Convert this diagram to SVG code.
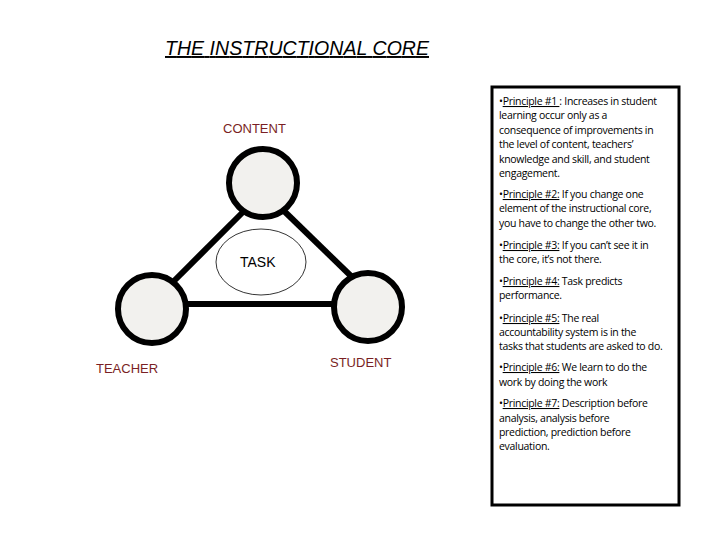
<svg xmlns="http://www.w3.org/2000/svg" width="720" height="540" viewBox="0 0 720 540">
<style>
.lbl{font-family:"Liberation Sans",Arial,sans-serif;font-size:13px;fill:#7a1f24}
.p{font-family:"Open Sans","Liberation Sans",sans-serif;font-size:10.5px;fill:#000;letter-spacing:-0.3px}
.u{text-decoration:underline}
.node{fill:#f2f1ee;stroke:#000;stroke-width:6}
</style>
<rect width="720" height="540" fill="#fff"/>
<text x="165" y="55" font-family="Liberation Sans,Arial,sans-serif" font-size="19.5" font-style="italic" text-decoration="underline" textLength="264">THE INSTRUCTIONAL CORE</text>
<g id="connectors" stroke="#000" stroke-width="6">
<line x1="243" y1="212" x2="170" y2="285"/>
<line x1="283" y1="210" x2="352" y2="277"/>
<line x1="185" y1="304" x2="334" y2="304"/>
</g>
<g id="content"><circle class="node" cx="263" cy="183" r="34"/><text class="lbl" x="223" y="133">CONTENT</text></g>
<g id="teacher"><circle class="node" cx="152" cy="309" r="34"/><text class="lbl" x="96" y="373">TEACHER</text></g>
<g id="student"><circle class="node" cx="368" cy="307" r="34"/><text class="lbl" x="330" y="367">STUDENT</text></g>
<g id="task"><ellipse cx="261" cy="262" rx="45" ry="33" fill="#fff" stroke="#000" stroke-width="0.8"/><text x="240" y="267" font-family="Liberation Sans,Arial,sans-serif" font-size="14">TASK</text></g>
<g id="principles">
<rect x="492" y="87" width="187" height="418" fill="#fff" stroke="#000" stroke-width="3"/>
<text class="p"><tspan x="499" y="105">•<tspan class="u">Principle #1 </tspan>: Increases in student</tspan><tspan x="499" y="119">learning occur only as a</tspan><tspan x="499" y="134">consequence of improvements in</tspan><tspan x="499" y="148">the level of content, teachers’</tspan><tspan x="499" y="163">knowledge and skill, and student</tspan><tspan x="499" y="177">engagement.</tspan></text>
<text class="p"><tspan x="499" y="198">•<tspan class="u">Principle #2:</tspan> If you change one</tspan><tspan x="499" y="212">element of the instructional core,</tspan><tspan x="499" y="227">you have to change the other two.</tspan></text>
<text class="p"><tspan x="499" y="249">•<tspan class="u">Principle #3:</tspan> If you can’t see it in</tspan><tspan x="499" y="263">the core, it’s not there.</tspan></text>
<text class="p"><tspan x="499" y="285">•<tspan class="u">Principle #4:</tspan> Task predicts</tspan><tspan x="499" y="299">performance.</tspan></text>
<text class="p"><tspan x="499" y="322">•<tspan class="u">Principle #5:</tspan> The real</tspan><tspan x="499" y="336">accountability system is in the</tspan><tspan x="499" y="350">tasks that students are asked to do.</tspan></text>
<text class="p"><tspan x="499" y="371">•<tspan class="u">Principle #6:</tspan> We learn to do the</tspan><tspan x="499" y="386">work by doing the work</tspan></text>
<text class="p"><tspan x="499" y="407">•<tspan class="u">Principle #7:</tspan> Description before</tspan><tspan x="499" y="422">analysis, analysis before</tspan><tspan x="499" y="436">prediction, prediction before</tspan><tspan x="499" y="450">evaluation.</tspan></text>
</g>
</svg>
